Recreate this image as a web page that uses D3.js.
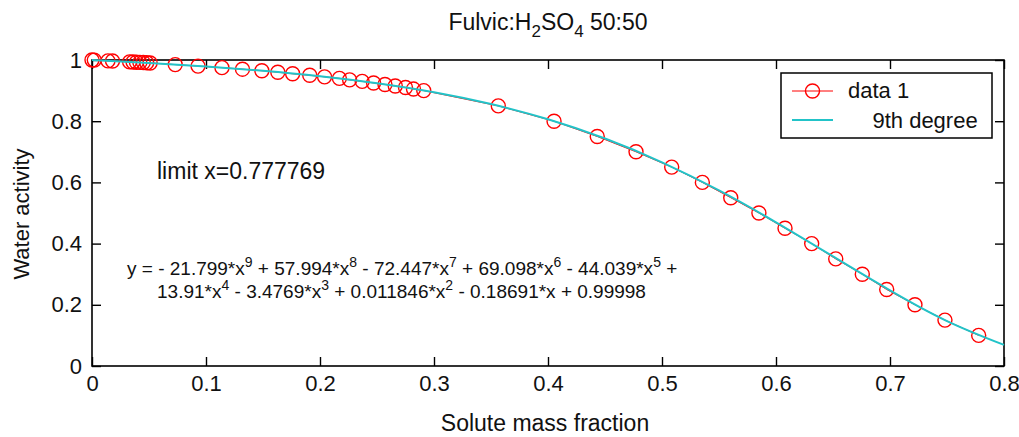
<!DOCTYPE html>
<html><head><meta charset="utf-8">
<script src="https://cdn.jsdelivr.net/npm/d3@7"></script>
<style>
body{margin:0;background:#fff;}
text{font-family:"Liberation Sans",Arial,sans-serif;fill:#111;}
</style></head>
<body><svg id="c" width="1019" height="437"></svg>
<script>
// measured data ("data 1")
const dataX = [0.000,0.002,0.014,0.018,0.033,0.036,0.039,0.042,0.045,0.048,0.051,
  0.073,0.093,0.114,0.132,0.149,0.163,0.176,0.191,0.204,0.217,0.226,0.237,0.247,0.257,0.266,0.275,0.282,0.291,
  0.3564,0.4053,0.4432,0.4772,0.5085,0.5354,0.5603,0.585,0.6079,0.6313,0.6524,0.6757,0.6971,0.7219,0.7482,0.7778];
const dataY = [1.000,0.9996,0.997,0.9966,0.9938,0.9933,0.9927,0.9921,0.9916,0.991,0.9904,
  0.985,0.98,0.975,0.97,0.965,0.96,0.955,0.95,0.945,0.94,0.935,0.93,0.925,0.92,0.915,0.91,0.905,0.9,
  0.85,0.8,0.75,0.7,0.65,0.6,0.55,0.5,0.45,0.4,0.35,0.3,0.25,0.2,0.15,0.1];
// 9th degree fit curve
const fitX = [0,0.05,0.1,0.15,0.2,0.25,0.3,0.35,0.4,0.45,0.5,0.55,0.6,0.65,0.7,0.75,0.8];
const fitY = [0.99998,0.9903,0.9789,0.9648,0.9471,0.9242,0.8947,0.8561,0.8063,0.7433,0.6657,0.5737,0.4695,0.3581,0.2471,0.1468,0.0689];
const xTicks = [0,0.1,0.2,0.3,0.4,0.5,0.6,0.7,0.8];
const yTicks = [0,0.2,0.4,0.6,0.8,1];
const seriesNames = ["data 1","    9th degree"];

const svg = d3.select("#c");
const L=92,R=1004,T=60,B=366;
const x = d3.scaleLinear().domain([0,0.8]).range([L,R]);
const y = d3.scaleLinear().domain([0,1]).range([B,T]);
const fmt = d => d===0?"0":(d===1?"1":String(d));
const FS = 22;

// axes with inward ticks on all sides
const gB = svg.append("g").attr("transform",`translate(0,${B})`)
  .call(d3.axisBottom(x).tickValues(xTicks).tickSize(-9).tickPadding(9).tickFormat(fmt));
const gT = svg.append("g").attr("transform",`translate(0,${T})`)
  .call(d3.axisTop(x).tickValues(xTicks).tickSize(-9).tickFormat(""));
const gL = svg.append("g").attr("transform",`translate(${L},0)`)
  .call(d3.axisLeft(y).tickValues(yTicks).tickSize(-9).tickPadding(10).tickFormat(fmt));
const gR = svg.append("g").attr("transform",`translate(${R},0)`)
  .call(d3.axisRight(y).tickValues(yTicks).tickSize(-9).tickFormat(""));
[gT,gR].forEach(g=>g.selectAll("text").remove());
[gB,gT,gL,gR].forEach(g=>{
  g.select(".domain").remove();
  g.selectAll("line").attr("stroke","#000").attr("stroke-width",1.4);
  g.selectAll("text").attr("font-size",FS).attr("fill","#111")
   .style("font-family",'"Liberation Sans",Arial,sans-serif');
});
svg.append("rect").attr("x",L).attr("y",T).attr("width",R-L).attr("height",B-T)
  .attr("fill","none").attr("stroke","#000").attr("stroke-width",1.6);

// data 1 line + markers
const pts = dataX.map((d,i)=>[d,dataY[i]]);
svg.append("path").datum(pts)
  .attr("d",d3.line().x(d=>x(d[0])).y(d=>y(d[1])))
  .attr("fill","none").attr("stroke","#ff0000").attr("stroke-width",1);
svg.append("g").selectAll("circle").data(pts).join("circle")
  .attr("cx",d=>x(d[0])).attr("cy",d=>y(d[1])).attr("r",7)
  .attr("fill","none").attr("stroke","#ff0000").attr("stroke-width",1.4);

// fit line
const fpts = fitX.map((d,i)=>[d,fitY[i]]);
svg.append("path").datum(fpts)
  .attr("d",d3.line().curve(d3.curveNatural).x(d=>x(d[0])).y(d=>y(d[1])))
  .attr("fill","none").attr("stroke","#22c3c8").attr("stroke-width",2);

// title
const title = svg.append("text").attr("x",(L+R)/2).attr("y",30).attr("text-anchor","middle").attr("font-size",23);
title.append("tspan").text("Fulvic:H");
title.append("tspan").text("2").attr("font-size",17).attr("dy",7);
title.append("tspan").text("SO").attr("dy",-7);
title.append("tspan").text("4").attr("font-size",17).attr("dy",7);
title.append("tspan").text(" 50:50").attr("dy",-7);

// axis labels
svg.append("text").attr("x",545).attr("y",431).attr("text-anchor","middle").attr("font-size",23).text("Solute mass fraction");
svg.append("text").attr("transform","translate(29,214) rotate(-90)").attr("text-anchor","middle").attr("font-size",FS).text("Water activity");

// annotations
svg.append("text").attr("x",157).attr("y",179).attr("font-size",23).text("limit x=0.777769");
const eq1 = [["y = - 21.799*x","9"],[" + 57.994*x","8"],[" - 72.447*x","7"],[" + 69.098*x","6"],[" - 44.039*x","5"],[" +",null]];
const eq2 = [["13.91*x","4"],[" - 3.4769*x","3"],[" + 0.011846*x","2"],[" - 0.18691*x + 0.99998",null]];
function eqLine(parts,x0,y0){
  const t = svg.append("text").attr("x",x0).attr("y",y0).attr("font-size",19);
  let shift = 0;
  parts.forEach(p=>{
    t.append("tspan").text(p[0]).attr("dy",shift);
    shift = 0;
    if(p[1]){ t.append("tspan").text(p[1]).attr("font-size",14).attr("dy",-8); shift = 8; }
  });
}
eqLine(eq1,127,275);
eqLine(eq2,157,298);

// legend
const lg = svg.append("g");
lg.append("rect").attr("x",781).attr("y",73).attr("width",211).attr("height",65)
  .attr("fill","#fff").attr("stroke","#000").attr("stroke-width",1.5);
lg.append("line").attr("x1",792).attr("x2",833).attr("y1",91).attr("y2",91).attr("stroke","#ff0000").attr("stroke-width",1);
lg.append("circle").attr("cx",812.5).attr("cy",91).attr("r",7).attr("fill","none").attr("stroke","#ff0000").attr("stroke-width",1.4);
lg.append("line").attr("x1",792).attr("x2",833).attr("y1",120).attr("y2",120).attr("stroke","#22c3c8").attr("stroke-width",2);
lg.append("text").attr("x",848).attr("y",98).attr("font-size",FS).text(seriesNames[0]);
lg.append("text").attr("x",848).attr("y",128).attr("font-size",FS).attr("xml:space","preserve").style("white-space","pre").text(seriesNames[1]);
</script></body></html>
